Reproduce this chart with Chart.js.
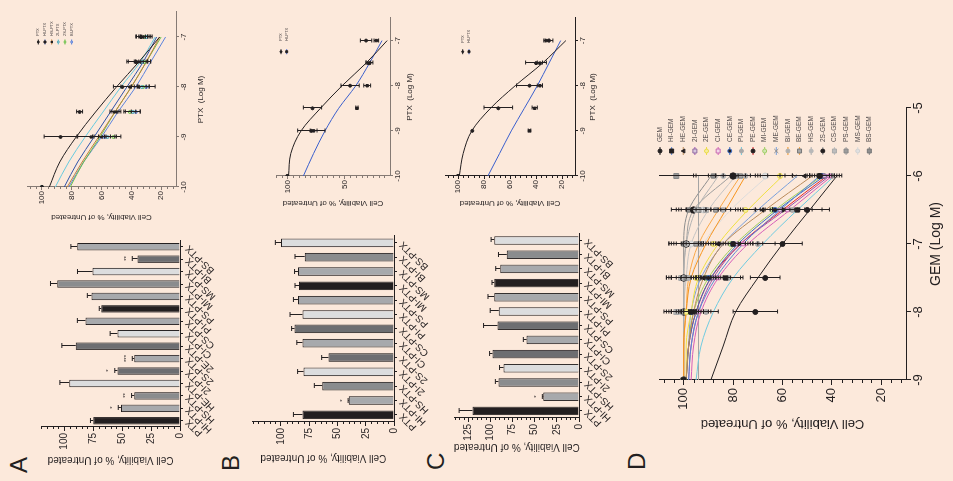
<!DOCTYPE html>
<html>
<head>
<meta charset="utf-8">
<script src="https://cdn.jsdelivr.net/npm/chart.js@4.4.1/dist/chart.umd.min.js"></script>
<style>
  html, body { margin: 0; padding: 0; background: #fce9db; }
  body { width: 953px; height: 481px; overflow: hidden; position: relative; }
  /* the figure is laid out upright (481 x 953) and turned a quarter turn */
  #fig { position: absolute; left: 0; top: 0; width: 481px; height: 953px;
         transform-origin: 0 0; transform: translate(0, 481px) rotate(-90deg);
         font-family: "Liberation Sans", Arial, sans-serif; color: #231f20; }
  #fig canvas { position: absolute; }
  .tag { position: absolute; font-size: 24px; line-height: 24px; }
</style>
</head>
<body>
<div id="fig">
  <div class="tag" style="left:8px;top:7px">A</div>
  <div class="tag" style="left:10px;top:219px">B</div>
  <div class="tag" style="left:11px;top:424px">C</div>
  <div class="tag" style="left:11px;top:625px">D</div>
</div>
<script>
// ---------- bar panels (single dose) ----------
const ptx15 = ['PTX', 'HI-PTX', 'HS-PTX', 'HE-PTX', '2I-PTX', '2S-PTX', '2E-PTX', 'CI-PTX',
               'CS-PTX', 'PI-PTX', 'PS-PTX', 'MI-PTX', 'MS-PTX', 'BI-PTX', 'BS-PTX'];
const ptx13 = ['PTX', 'HI-PTX', 'HS-PTX', '2I-PTX', '2S-PTX', 'CI-PTX', 'CS-PTX',
               'PI-PTX', 'PS-PTX', 'MI-PTX', 'MS-PTX', 'BI-PTX', 'BS-PTX'];

const barA = [75, 51, 39.5, 95.7, 54, 39.5, 90, 54, 81.6, 68, 76.4, 106, 75.5, 36.6, 88.8];
const barAErr = [2.3, 2.3, 2.3, 8, 2.3, 1.7, 12, 6.3, 7, 1.7, 3.6, 5.8, 13, 4.6, 5.4];
const barAStars = ['', '*', '**', '', '*', '***', '', '', '', '', '', '', '', '**', ''];

const barB = [81, 40, 63.5, 80, 58, 81, 88, 81, 85, 84, 85, 79, 100];
const barBErr = [8, 0.6, 7, 5.3, 6, 5, 2.6, 11, 4, 3.6, 3, 8.6, 5];
const barBStars = ['', '*', '', '', '', '', '', '', '', '', '', '', ''];

const barC = [120, 40.3, 90.7, 85, 97.4, 59, 91.8, 90.3, 95.5, 95.5, 88.8, 81.3, 95.5];
const barCErr = [15, 1, 3.5, 4.5, 3.3, 3.7, 15.7, 9.7, 7, 2.5, 5, 9.4, 3.5];
const barCStars = ['', '*', '', '', '', '', '', '', '', '', '', '', ''];

const barTicks = [0, 25, 50, 75, 100];
const barTicksC = [0, 25, 50, 75, 100, 125];
const barMinor = [5, 10, 15, 20, 30, 35, 40, 45, 55, 60, 65, 70, 80, 85, 90, 95, 105, 110, 115, 120];
const barMinorB = barMinor.concat([125]);
const barMinorC = barMinor.concat([130, 135, 140]);

// ---------- PTX dose-response panels ----------
const ptxDose = [-10, -9, -8.5, -8, -7.5, -7];
const ptxFitX = [-10, -9.5, -9, -8.5, -8, -7.5, -7];
const ptxAxis = [-10, -9, -8, -7];
const vialTicks = [20, 40, 60, 80, 100];
const vialTicksB = [50, 100];
const vialMinor = [12, 16, 24, 28, 32, 36, 44, 48, 52, 56, 64, 68, 72, 76, 84, 88, 92, 96, 104, 108];
const vialMinorB = [15, 20, 25, 30, 35, 40, 45, 55, 60, 65, 70, 75, 80, 85, 90, 95, 105, 110];

const seriesA = ['PTX', 'HI-PTX', 'HS-PTX', '2I-PTX', '2S-PTX', 'BI-PTX'];
const fitA = [
  [95, 88, 77, 64, 50, 35, 21],
  [85, 76, 65, 54, 43, 32, 23],
  [83, 73, 62, 51, 40, 30, 21],
  [91, 82, 71, 59, 47, 34, 24],
  [81, 72, 61, 51, 40, 30, 20],
  [82, 72, 60, 49, 37, 27, 17]
];
const meanA = [
  [100, 87.5, 74.7, 46, 37, 33.5],
  [100, 67, 51.3, 41, 36, 33],
  [100, 60, 50, 35, 34, 32],
  [100, 56, 39, 33, 33, 30],
  [100, 52, 41, 32, 31, 31],
  [100, 58, 37, 30, 32, 30]
];
const sdA = [
  [0, 11, 2, 6, 5, 3],
  [0, 9, 3, 6, 7, 4],
  [0, 6, 3, 5, 4, 3],
  [0, 6, 5, 5, 4, 3],
  [0, 5, 4, 4, 4, 3],
  [0, 7, 3, 6, 5, 4]
];

const seriesBC = ['PTX', 'HI-PTX'];
const fitB = [[99, 97, 88, 71, 52, 31, 12.5], [86, 77, 67, 55, 40, 28, 17]];
const meanB = [[100, 79, 78, 45, 28, 31], [100, 77, 39, 30, 29, 22]];
const sdB = [[0, 12, 8, 8, 3, 5], [0, 3, 1, 3, 2, 2]];

const fitC = [[99, 96, 89.4, 75, 56, 35, 17], [77, 68, 59, 49, 39, 30, 21]];
const meanC = [[100, 89, 69, 45, 40, 30], [100, 45, 41, 37, 37, 32]];
const sdC = [[0, 0, 11, 10, 8, 3], [0, 1, 2, 2, 2, 2]];

// ---------- GEM dose-response panel ----------
const gemDose = [-9, -8, -7.5, -7, -6.5, -6];
const gemFitX = [-9, -8.5, -8, -7.5, -7, -6.5, -6];
const gemAxis = [-9, -8, -7, -6, -5];
const gemNames = ['GEM', 'HI-GEM', 'HE-GEM', '2I-GEM', '2E-GEM', 'CI-GEM', 'CE-GEM', 'PI-GEM', 'PE-GEM',
                  'MI-GEM', 'ME-GEM', 'BI-GEM', 'BE-GEM', 'HS-GEM', '2S-GEM', 'CS-GEM', 'PS-GEM', 'MS-GEM', 'BS-GEM'];
const gemFit = [
  [89, 84, 79, 70, 60, 49, 38],
  [98, 97, 94, 87, 76, 61, 45],
  [99, 98, 96, 92, 84, 67, 48],
  [98, 97, 94, 88, 77, 59, 41],
  [99, 99, 97, 94, 86, 74, 60],
  [97, 96, 93, 86, 74, 57, 40],
  [99, 98, 95, 89, 78, 62, 43],
  [95, 93, 88, 80, 68, 54, 39],
  [99, 98, 95, 89, 77, 60, 42],
  [99, 98, 96, 90, 79, 63, 44],
  [99, 98, 97, 93, 84, 70, 54],
  [100, 100, 99, 97, 91, 83, 75],
  [100, 100, 99, 98, 94, 86, 77],
  [100, 100, 100, 100, 99, 95, 86],
  [100, 100, 100, 100, 99, 96, 81],
  [100, 100, 100, 99, 97, 90, 79],
  [94, 94, 94, 94, 94, 94, 94],
  [100, 100, 99, 97, 92, 81, 66],
  [100, 100, 100, 100, 100, 98, 89]
];
const gemMean = [
  [100, 71, 67, 60, 50, 45],
  [100, 97, 83, 80, 54, 45],
  [100, 96, 92, 86, 68, 51],
  [100, 95, 88, 79, 61, 43],
  [100, 99, 95, 88, 75, 61],
  [100, 94, 86, 76, 58, 41],
  [100, 97, 90, 80, 63, 44],
  [100, 91, 82, 70, 56, 40],
  [100, 97, 89, 78, 60, 43],
  [100, 98, 91, 81, 64, 45],
  [100, 98, 93, 85, 71, 55],
  [100, 99, 98, 93, 84, 75],
  [100, 100, 99, 95, 87, 77],
  [100, 101, 100, 99, 95, 84],
  [100, 100, 100, 99, 96, 80],
  [100, 103, 101, 99, 91, 79],
  [100, 95, 94, 93, 94, 103],
  [100, 101, 99, 97, 92, 67],
  [100, 102, 101, 100, 98, 88]
];
const gemSd = [
  [0, 9, 6, 8, 9, 5],
  [0, 5, 6, 8, 10, 4],
  [0, 4, 5, 6, 8, 5],
  [0, 3, 4, 6, 7, 4],
  [0, 3, 4, 5, 6, 5],
  [0, 4, 5, 6, 7, 4],
  [0, 3, 5, 6, 8, 5],
  [0, 5, 6, 7, 8, 4],
  [0, 4, 5, 6, 7, 5],
  [0, 3, 5, 6, 7, 4],
  [0, 3, 4, 5, 7, 6],
  [0, 4, 5, 6, 7, 6],
  [0, 5, 6, 6, 8, 7],
  [0, 4, 5, 5, 6, 6],
  [0, 5, 6, 6, 7, 7],
  [0, 5, 6, 7, 8, 8],
  [0, 6, 7, 7, 8, 8],
  [0, 5, 6, 6, 7, 8],
  [0, 5, 6, 6, 7, 8]
];

// ---------- styles ----------
const INK = '#231f20';
const GREY_AXIS = '#857a74';
const shade = { k: '#231f20', g1: '#a7a9ac', g2: '#8a8c8e', g3: '#dcddde', g4: '#6d6e71' };
const fills15 = ['k', 'g1', 'g2', 'g3', 'g4', 'g1', 'g4', 'g3', 'g1', 'k', 'g1', 'g2', 'g3', 'g4', 'g1'].map(k => shade[k]);
const fills13 = ['k', 'g1', 'g2', 'g3', 'g4', 'g1', 'g4', 'g3', 'g1', 'k', 'g1', 'g2', 'g3'].map(k => shade[k]);

const lineA = ['#231f20', '#2f52a8', '#c0803a', '#66cadf', '#6cbf4a', '#5b82dc'];
const markA = ['circle', 'rect', 'triangle', 'circle', 'circle', 'circle'];
const markAFill = ['#231f20', '#231f20', '#231f20', '#b9e3ea', '#c8e4a8', '#b8c4e4'];
const markAEdge = ['#231f20', '#231f20', '#231f20', '#4a9fb0', '#6cbf4a', '#5b82dc'];
const lineBC = ['#231f20', '#3a5fcd'];
const markBC = ['circle', 'rect'];

const gemLine = ['#231f20', '#5a86d6', '#b98a5a', '#9b4fb0', '#f0e040', '#d65db8', '#3b6cc4', '#6fcbe0', '#e3262a',
                 '#9fcf5f', '#7aa0dc', '#f7941d', '#f9a848', '#b3b3b3', '#9d9d9d', '#c4c4c4', '#a3a3a3', '#dcdcdc', '#8d8d8d'];
const gemMark = ['circle', 'rect', 'triangle', 'rect', 'circle', 'rect', 'circle', 'circle', 'circle', 'circle',
                 'crossRot', 'circle', 'rect', 'circle', 'circle', 'rect', 'rect', 'circle', 'rect'];
const gemMarkFill = ['#231f20', '#231f20', '#231f20', '#d8c8de', '#f7ef9a', '#f3d6ea', '#231f20', '#a9a9a9', '#231f20',
                     '#cfe6b0', '#8a8a8a', '#b0b0b0', '#a8a8a8', '#b8b8b8', '#231f20', '#bdbdbd', '#9c9c9c', '#e0e0e0', '#8f8f8f'];
const gemMarkEdge = ['#231f20', '#231f20', '#231f20', '#8f6aa0', '#e8d84a', '#c86ab0', '#3b6cc4', '#a9a9a9', '#231f20',
                     '#a0cc66', '#8a8a8a', '#b0b0b0', '#777777', '#b8b8b8', '#231f20', '#aaaaaa', '#888888', '#d0d0d0', '#777777'];
const gemMarkR = [2.5, 3, 2.5, 2.5, 2.5, 2.5, 2.5, 2.5, 2, 2.5, 2.5, 2.5, 3, 2.5, 3.2, 3.5, 3.5, 3, 3];

Chart.defaults.font.family = '"Liberation Sans", Arial, Helvetica, sans-serif';
Chart.defaults.color = INK;
Chart.defaults.animation = false;
Chart.defaults.plugins.legend.display = false;
Chart.defaults.plugins.tooltip.enabled = false;

// ---------- helpers ----------
function mount(box) {
  const c = document.createElement('canvas');
  c.width = box.w;
  c.height = box.h;
  c.style.left = box.x + 'px';
  c.style.top = box.y + 'px';
  document.getElementById('fig').appendChild(c);
  return c;
}

// layout padding + fixed axis sizes that put the plot area where we want it
function frame(box, area) {
  return {
    padding: { left: 0, top: area.t - box.y, right: box.x + box.w - area.r, bottom: 0 },
    yWidth: area.l - box.x,
    xHeight: box.y + box.h - area.b
  };
}

function drawMarker(ctx, style, x, y, r, fillColor, edgeColor) {
  ctx.save();
  ctx.fillStyle = fillColor;
  ctx.strokeStyle = edgeColor;
  ctx.lineWidth = 1;
  ctx.beginPath();
  if (style === 'rect') {
    ctx.rect(x - r, y - r, 2 * r, 2 * r);
  } else if (style === 'triangle') {
    ctx.moveTo(x, y - r);
    ctx.lineTo(x + r, y + r * 0.8);
    ctx.lineTo(x - r, y + r * 0.8);
    ctx.closePath();
  } else if (style === 'crossRot') {
    ctx.moveTo(x - r, y - r); ctx.lineTo(x + r, y + r);
    ctx.moveTo(x + r, y - r); ctx.lineTo(x - r, y + r);
    ctx.stroke();
    ctx.restore();
    return;
  } else {
    ctx.arc(x, y, r, 0, Math.PI * 2);
  }
  ctx.fill();
  ctx.stroke();
  ctx.restore();
}

// SD whiskers (and significance stars) for any dataset carrying `errors`
const errorBars = {
  id: 'errorBars',
  afterDatasetsDraw(chart) {
    const { ctx, chartArea: a } = chart;
    const yScale = chart.scales.y;
    chart.data.datasets.forEach((ds, di) => {
      if (!ds.errors) return;
      const meta = chart.getDatasetMeta(di);
      const cap = ds.capHalf || 2.5;
      meta.data.forEach((el, i) => {
        const e = ds.errors[i];
        const raw = ds.data[i];
        const v = typeof raw === 'object' ? raw.y : raw;
        const hi = yScale.getPixelForValue(v + e);
        const lo = ds.oneSided ? el.y : yScale.getPixelForValue(v - e);
        const x = Math.round(el.x) + 0.5;
        ctx.save();
        ctx.beginPath();
        ctx.rect(a.left - 5, a.top, a.right - a.left + 10, a.bottom - a.top);
        ctx.clip();
        ctx.strokeStyle = ds.errorColor || INK;
        ctx.lineWidth = 1;
        if (e > 0) {
          ctx.beginPath();
          ctx.moveTo(x, lo); ctx.lineTo(x, hi);
          ctx.moveTo(x - cap, hi); ctx.lineTo(x + cap, hi);
          if (!ds.oneSided) { ctx.moveTo(x - cap, lo); ctx.lineTo(x + cap, lo); }
          ctx.stroke();
        }
        ctx.restore();
        if (ds.stars && ds.stars[i]) {
          ctx.save();
          ctx.fillStyle = INK;
          ctx.font = '6px "Liberation Sans", Arial, sans-serif';
          ctx.textAlign = 'center';
          ctx.textBaseline = 'bottom';
          ctx.fillText(ds.stars[i], x, hi - 3);
          ctx.restore();
        }
      });
    });
  }
};

// short unlabeled ticks along the value axis
function minorTicks(values, len, color) {
  return {
    id: 'minorTicks',
    afterDraw(chart) {
      const { ctx } = chart;
      const s = chart.scales.y;
      ctx.save();
      ctx.strokeStyle = color;
      ctx.lineWidth = 1;
      ctx.beginPath();
      values.forEach(v => {
        const py = Math.round(s.getPixelForValue(v)) + 0.5;
        ctx.moveTo(s.right, py);
        ctx.lineTo(s.right - len, py);
      });
      ctx.stroke();
      ctx.restore();
    }
  };
}

// stacked legend drawn inside the plot: line sample, symbol, name
function insetLegend(o) {
  return {
    id: 'insetLegend',
    afterDraw(chart) {
      const { ctx } = chart;
      const items = chart.data.datasets.filter(d => d.legendLine);
      ctx.save();
      ctx.font = o.size + 'px "Liberation Sans", Arial, sans-serif';
      ctx.textBaseline = 'middle';
      items.forEach((d, i) => {
        const y = o.y + i * o.dy;
        ctx.strokeStyle = d.legendLine;
        ctx.lineWidth = 1;
        ctx.beginPath();
        ctx.moveTo(o.x - o.half, y);
        ctx.lineTo(o.x + o.half, y);
        ctx.stroke();
        drawMarker(ctx, d.pointStyle, o.x, y, o.r, d.pointBackgroundColor, d.pointBorderColor);
        ctx.fillStyle = '#4a4445';
        ctx.fillText(d.label, o.textX, y);
      });
      ctx.restore();
    }
  };
}

function barPanel(box, area, labels, values, errs, stars, fills, yMax, yTicks, minor) {
  const f = frame(box, area);
  return new Chart(mount(box), {
    type: 'bar',
    data: {
      labels: labels,
      datasets: [{
        data: values, errors: errs, stars: stars, oneSided: true, capHalf: 2.5,
        backgroundColor: fills, borderColor: INK, borderWidth: 1,
        barPercentage: 0.6, categoryPercentage: 1
      }]
    },
    options: {
      responsive: false,
      layout: { padding: f.padding },
      scales: {
        x: {
          grid: { drawOnChartArea: false, offset: false, tickLength: 3, color: INK },
          border: { color: INK },
          ticks: { autoSkip: false, minRotation: 45, maxRotation: 45, padding: 0, font: { size: 10 } },
          afterFit: s => { s.height = f.xHeight; }
        },
        y: {
          min: 0, max: yMax,
          afterBuildTicks: s => { s.ticks = yTicks.map(v => ({ value: v })); },
          grid: { drawOnChartArea: false, tickLength: 4, color: INK },
          border: { color: INK },
          ticks: { padding: 2, font: { size: 10 } },
          title: { display: true, text: 'Cell Viability, % of Untreated', padding: 0, font: { size: 10 } },
          afterFit: s => { s.width = f.yWidth; }
        }
      }
    },
    plugins: [errorBars, minorTicks(minor, 2, INK)]
  });
}

function doseSets(names, fitX, fits, doses, means, sds, lineColors, marks, markFill, markEdge, markR, errColor) {
  const sets = [];
  names.forEach((name, i) => {
    sets.push({
      label: name,
      legendLine: lineColors[i],
      data: doses.map((x, j) => ({ x: x, y: means[i][j] })),
      errors: sds[i],
      errorColor: errColor,
      capHalf: 2,
      showLine: false,
      pointStyle: marks[i],
      pointRadius: markR[i],
      pointBackgroundColor: markFill[i],
      pointBorderColor: markEdge[i],
      pointBorderWidth: 1,
      order: 0
    });
  });
  names.forEach((name, i) => {
    sets.push({
      data: fitX.map((x, j) => ({ x: x, y: fits[i][j] })),
      showLine: true,
      cubicInterpolationMode: 'monotone',
      borderColor: lineColors[i],
      borderWidth: 1,
      pointRadius: 0,
      fill: false,
      order: 1
    });
  });
  return sets;
}

function dosePanel(box, area, c) {
  const f = frame(box, area);
  const axisFont = { size: c.tickSize };
  return new Chart(mount(box), {
    type: 'scatter',
    data: { datasets: c.datasets },
    options: {
      responsive: false,
      layout: { padding: f.padding },
      scales: {
        x: {
          type: 'linear', min: c.xMin, max: c.xMax,
          afterBuildTicks: s => { s.ticks = c.xTicks.map(v => ({ value: v })); },
          grid: { drawOnChartArea: false, tickLength: c.tickLen, color: c.axisColor },
          border: { color: c.axisColor },
          ticks: { padding: c.xPad, font: axisFont, callback: v => String(v) },
          title: { display: true, text: c.xTitle, padding: 0, font: { size: c.xTitleSize } },
          afterFit: s => { s.height = f.xHeight; }
        },
        y: {
          min: 10, max: 110,
          afterBuildTicks: s => { s.ticks = c.yTicks.map(v => ({ value: v })); },
          grid: { drawOnChartArea: false, tickLength: c.tickLen, color: c.axisColor },
          border: { color: c.axisColor },
          ticks: { padding: c.yPad, font: axisFont },
          title: { display: true, text: 'Cell Viability, % of Untreated', padding: 0, font: { size: c.yTitleSize } },
          afterFit: s => { s.width = f.yWidth; }
        }
      }
    },
    plugins: [errorBars, minorTicks(c.minor, c.minorLen, c.axisColor), insetLegend(c.legend)]
  });
}

function legendAt(box, x, y, dy, textX, size, half, r) {
  return { x: x - box.x, y: y - box.y, dy: dy, textX: textX - box.x, size: size, half: half, r: r };
}

// ---------- panel A ----------
barPanel({ x: 15, y: 30, w: 235, h: 215 }, { l: 54, t: 41, r: 240.5, b: 180 },
  ptx15, barA, barAErr, barAStars, fills15, 120, barTicks, barMinor);

const boxAL = { x: 259, y: 0, w: 222, h: 206 };
dosePanel(boxAL, { l: 294, t: 27, r: 469, b: 176 }, {
  xMin: -10, xMax: -6.5, xTicks: ptxAxis, yTicks: vialTicks, minor: vialMinor,
  xTitle: 'PTX  (Log M)', tickSize: 8, xTitleSize: 8, yTitleSize: 8, tickLen: 3, minorLen: 2,
  xPad: 0, yPad: 1, axisColor: GREY_AXIS,
  datasets: doseSets(seriesA, ptxFitX, fitA, ptxDose, meanA, sdA, lineA, markA, markAFill, markAEdge,
                     [1.5, 1.5, 1.7, 1.5, 1.5, 1.5], INK),
  legend: legendAt(boxAL, 439, 38.3, 6.67, 445, 4, 2.5, 1)
});

// ---------- panel B ----------
barPanel({ x: 17, y: 240, w: 233, h: 215 }, { l: 59, t: 252.75, r: 245.3, b: 394 },
  ptx13, barB, barBErr, barBStars, fills13, 125, barTicks, barMinorB);

const boxBL = { x: 273, y: 250, w: 208, h: 165 };
dosePanel(boxBL, { l: 305, t: 276, r: 463, b: 390 }, {
  xMin: -10, xMax: -6.5, xTicks: ptxAxis, yTicks: vialTicksB, minor: vialMinorB,
  xTitle: 'PTX  (Log M)', tickSize: 8, xTitleSize: 8, yTitleSize: 8, tickLen: 3, minorLen: 2,
  xPad: 0, yPad: 1, axisColor: GREY_AXIS,
  datasets: doseSets(seriesBC, ptxFitX, fitB, ptxDose, meanB, sdB, lineBC, markBC,
                     [INK, INK], [INK, INK], [1.5, 1.7], INK),
  legend: legendAt(boxBL, 429.3, 281, 5.7, 440, 4, 2.5, 1)
});

// ---------- panel C ----------
barPanel({ x: 28, y: 440, w: 225, h: 200 }, { l: 63, t: 454.7, r: 247.6, b: 579 },
  ptx13, barC, barCErr, barCStars, fills13, 140, barTicksC, barMinorC);

const boxCL = { x: 273, y: 425, w: 208, h: 173 };
dosePanel(boxCL, { l: 305, t: 445, r: 463, b: 575 }, {
  xMin: -10, xMax: -6.5, xTicks: ptxAxis, yTicks: vialTicks, minor: vialMinor,
  xTitle: 'PTX  (Log M)', tickSize: 8, xTitleSize: 8, yTitleSize: 8, tickLen: 3, minorLen: 2,
  xPad: 0, yPad: 1, axisColor: INK,
  datasets: doseSets(seriesBC, ptxFitX, fitC, ptxDose, meanC, sdC, lineBC, markBC,
                     [INK, INK], [INK, INK], [1.5, 1.7], INK),
  legend: legendAt(boxCL, 429.3, 462.7, 6.3, 438, 4, 2.5, 1)
});

// ---------- panel D ----------
const boxD = { x: 50, y: 640, w: 431, h: 305 };
dosePanel(boxD, { l: 101, t: 659, r: 373, b: 906 }, {
  xMin: -9, xMax: -5, xTicks: gemAxis, yTicks: vialTicks, minor: vialMinor,
  xTitle: 'GEM (Log M)', tickSize: 13, xTitleSize: 14, yTitleSize: 13, tickLen: 5, minorLen: 3,
  xPad: 0, yPad: 3, axisColor: INK,
  datasets: doseSets(gemNames, gemFitX, gemFit, gemDose, gemMean, gemSd, gemLine, gemMark,
                     gemMarkFill, gemMarkEdge, gemMarkR, INK),
  legend: legendAt(boxD, 330, 660, 11.63, 339, 6.5, 4, 2)
});
</script>
</body>
</html>
